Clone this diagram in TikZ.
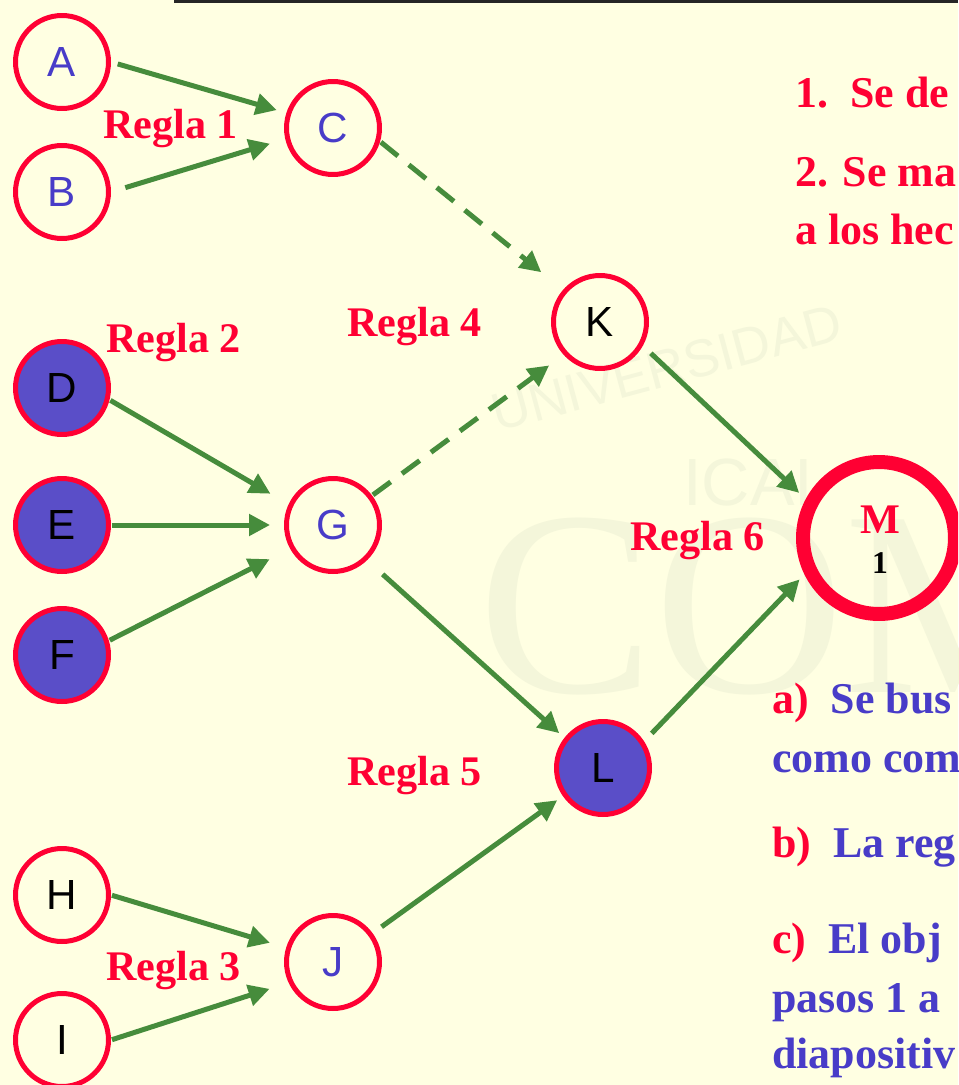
\documentclass[tikz,border=0pt]{standalone}
\usepackage{fontspec}
\setmainfont{Liberation Serif}
\newfontfamily\arialf{Liberation Sans}
\usetikzlibrary{arrows.meta}
\definecolor{bgyellow}{RGB}{255,255,226}
\definecolor{rulered}{RGB}{255,0,51}
\definecolor{factblue}{RGB}{72,60,200}
\definecolor{knownfill}{RGB}{90,78,200}
\definecolor{rulegreen}{RGB}{70,140,60}
\definecolor{wmark}{RGB}{244,246,218}
\tikzset{
  fact/.style={circle, draw=rulered, line width=0.1cm, minimum size=1.86cm, inner sep=0pt,
    font=\arialf\fontsize{24}{24}\selectfont},
  known/.style={fact, fill=knownfill},
  goal/.style={circle, draw=rulered, line width=0.28cm, minimum size=3.04cm, inner sep=0pt},
  rulearrow/.style={draw=rulegreen, line width=0.1cm, -{Triangle[length=0.42cm,width=0.42cm]},
    shorten <=0.02cm, shorten >=0.36cm},
  chainarrow/.style={rulearrow, dash pattern=on 0.44cm off 0.28cm},
  regla/.style={text=rulered, anchor=base west, inner sep=0pt},
  bullet/.style={text=factblue, anchor=base west, inner sep=0pt,
    font=\bfseries\fontsize{25}{28}\selectfont}
}
\begin{document}
\begin{tikzpicture}[x=0.02cm, y=-0.02cm, font=\bfseries\fontsize{24}{28}\selectfont]
\clip (0,0) rectangle (958,1085);
\fill[bgyellow] (0,0) rectangle (958,1085);
% watermark
\node[text=wmark, font=\arialf\fontsize{30}{30}\selectfont, rotate=15, anchor=base west, inner sep=0pt] (wuni) at (497,432) {UNIVERSIDAD};
\node[text=wmark, font=\arialf\fontsize{38}{38}\selectfont, anchor=base west, inner sep=0pt] (wicai) at (683,505) {ICAI};
\node[text=wmark, font=\fontsize{150}{150}\selectfont, anchor=base west, inner sep=0pt] (wcom) at (478,692) {COM};
\fill[black!85] (174,0) rectangle (958,3);

% hechos
\node[fact, text=factblue] (A) at (62,62) {A};
\node[fact, text=factblue] (B) at (62,192) {B};
\node[fact, text=factblue] (C) at (333,128) {C};
\node[known] (D) at (62,388) {D};
\node[known] (E) at (62,525) {E};
\node[known] (F) at (62,655) {F};
\node[fact, text=factblue] (G) at (333,525) {G};
\node[fact] (K) at (600,322) {K};
\node[known] (L) at (603,768) {L};
\node[fact] (H) at (62,895) {H};
\node[fact] (I) at (62,1040) {I};
\node[fact, text=factblue] (J) at (333,962) {J};
\node[goal] (M) at (879,538) {};
\node[text=rulered, anchor=base, inner sep=0pt] (Mname) at (880,533) {M};
\node[anchor=base, inner sep=0pt, font=\bfseries\fontsize{18}{18}\selectfont] (Mcount) at (880,573) {1};

% reglas
\node[regla] (r1) at (103,138) {Regla 1};
\node[regla] (r2) at (106,352) {Regla 2};
\node[regla] (r3) at (106,980) {Regla 3};
\node[regla] (r4) at (347,336) {Regla 4};
\node[regla] (r5) at (347,785) {Regla 5};
\node[regla] (r6) at (630,550) {Regla 6};

\draw[rulearrow, shorten <=0.14cm, shorten >=0.2cm] (A.0) -- (C.162);
\draw[rulearrow, shorten <=0.3cm, shorten >=0.32cm] (B.0) -- (C.193);
\draw[chainarrow, shorten >=0.56cm] (C.-16) -- (K.139);
\draw[rulearrow, shorten >=0.42cm] (D.-14) -- (G.155);
\draw[rulearrow, shorten >=0.28cm] (E.0) -- (G.180);
\draw[rulearrow, shorten >=0.46cm] (F.17) -- (G.209);
\draw[chainarrow] (G.37) -- (K.222);
\draw[rulearrow, shorten <=0.42cm, shorten >=0.14cm] (G.-46) -- (L.142);
\draw[rulearrow, shorten <=0.22cm, shorten >=0.18cm] (K.-29) -- (M.152);
\draw[rulearrow, shorten <=0.22cm, shorten >=0.14cm] (L.33) -- (M.206);
\draw[rulearrow, shorten >=0.34cm] (H.0) -- (J.163);
\draw[rulearrow, shorten >=0.4cm] (I.0) -- (J.205);
\draw[rulearrow, shorten <=0.22cm, shorten >=0.14cm] (J.36) -- (L.215);

% texto
\node[regla, font=\bfseries\fontsize{25}{28}\selectfont] (t1) at (795,107) {1.\ \ Se de};
\node[regla, font=\bfseries\fontsize{25}{28}\selectfont] (t2) at (795,186) {2. Se ma};
\node[regla, font=\bfseries\fontsize{25}{28}\selectfont] (t3) at (795,244) {a los hec};
\node[bullet] (ta) at (772,713) {\textcolor{rulered}{a)}\ \ Se bus};
\node[bullet] (ta2) at (772,772) {como com};
\node[bullet] (tb) at (772,857) {\textcolor{rulered}{b)}\ \ La reg};
\node[bullet] (tc) at (772,953) {\textcolor{rulered}{c)}\ \ El obj};
\node[bullet] (tc2) at (772,1012) {pasos 1 a};
\node[bullet] (tc3) at (772,1068) {diapositiv};
\end{tikzpicture}
\end{document}
